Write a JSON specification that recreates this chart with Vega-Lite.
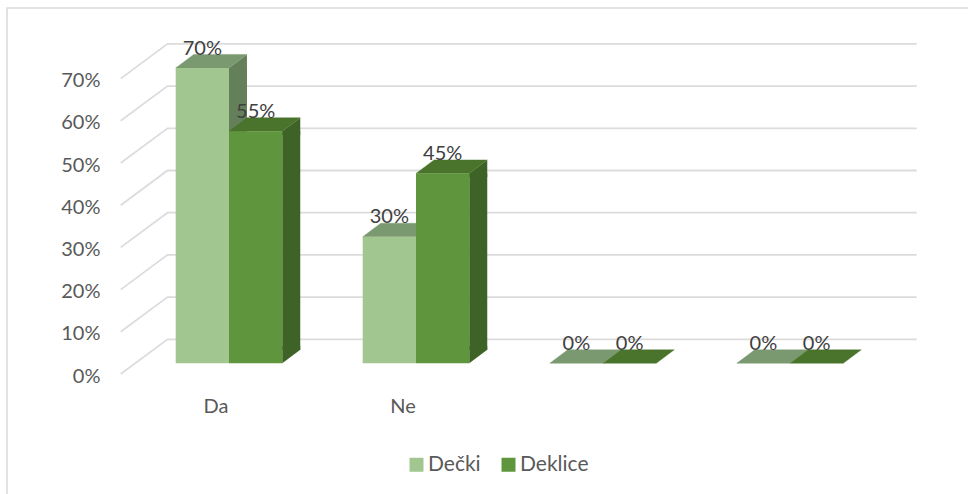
{
  "$schema": "https://vega.github.io/schema/vega-lite/v6.json",
  "width": 962,
  "height": 487,
  "autosize": {"type": "none"},
  "padding": {"left": 7, "top": 8, "right": -1, "bottom": -1},
  "background": "#ffffff",
  "config": {"view": {"stroke": "#d9d9d9", "strokeWidth": 1.5}},
  "datasets": {
    "bars": [
      {"cat": "Da", "series": "Dečki", "value": 0.7},
      {"cat": "Da", "series": "Deklice", "value": 0.55},
      {"cat": "Ne", "series": "Dečki", "value": 0.3},
      {"cat": "Ne", "series": "Deklice", "value": 0.45},
      {"cat": " ", "series": "Dečki", "value": 0},
      {"cat": " ", "series": "Deklice", "value": 0},
      {"cat": "  ", "series": "Dečki", "value": 0},
      {"cat": "  ", "series": "Deklice", "value": 0}
    ],
    "ticks": [
      {"tick": 0}, {"tick": 0.1}, {"tick": 0.2}, {"tick": 0.3},
      {"tick": 0.4}, {"tick": 0.5}, {"tick": 0.6}, {"tick": 0.7}
    ]
  },
  "data": {"name": "bars"},
  "encoding": {
    "x": {
      "field": "cat",
      "type": "nominal",
      "sort": null,
      "title": null,
      "scale": {
        "type": "band",
        "domain": ["Da", "Ne", " ", "  "],
        "range": [128.5, 876.5],
        "paddingInner": 0.43,
        "paddingOuter": 0.215
      },
      "axis": {
        "title": null,
        "domain": false,
        "ticks": false,
        "grid": false,
        "labelAngle": 0,
        "offset": -120,
        "labelPadding": 21,
        "labelOffset": -13,
        "labelFont": "Lato",
        "labelFontSize": 20,
        "labelColor": "#595959"
      }
    },
    "xOffset": {
      "field": "series",
      "type": "nominal",
      "sort": null,
      "scale": {"type": "band", "domain": ["Dečki", "Deklice"], "paddingInner": 0, "paddingOuter": 0}
    },
    "y": {
      "field": "value",
      "type": "quantitative",
      "title": null,
      "scale": {"domain": [0, 0.7], "range": [366, 70.6], "nice": false, "zero": false},
      "axis": {
        "title": null,
        "domain": false,
        "ticks": false,
        "grid": false,
        "values": [0, 0.1, 0.2, 0.3, 0.4, 0.5, 0.6, 0.7],
        "format": ".0%",
        "offset": -95,
        "labelPadding": 2,
        "labelOffset": 2,
        "labelFont": "Lato",
        "labelFontSize": 20,
        "labelColor": "#595959"
      }
    }
  },
  "layer": [
    {
      "description": "Back wall gridlines with their slanted floor-side returns",
      "data": {"name": "ticks"},
      "mark": {
        "type": "point",
        "shape": "M-108.3,0 L-61.5,-34.7 L687.7,-34.7",
        "size": 4,
        "filled": false,
        "opacity": 1,
        "stroke": "#dcdcdc",
        "strokeWidth": 1.8
      },
      "encoding": {
        "x": {"datum": "Da", "title": null},
        "xOffset": null,
        "y": {"field": "tick", "type": "quantitative", "title": null}
      }
    },
    {
      "description": "Side face, light series",
      "transform": [{"filter": "datum.series === 'Dečki' && datum.value > 0"}],
      "mark": {"type": "rule", "stroke": "#64805a", "strokeWidth": 18, "xOffset": 9, "yOffset": -10.7, "y2Offset": -24.2},
      "encoding": {"xOffset": null, "y2": {"datum": 0}}
    },
    {
      "transform": [{"filter": "datum.series === 'Dečki' && datum.value > 0"}],
      "mark": {"type": "point", "shape": "M26.6,-10.7 L44.6,-24.2 L44.6,-7 L26.6,-7 Z", "size": 4, "filled": true, "opacity": 1, "fill": "#64805a", "strokeWidth": 0}
    },
    {
      "description": "Side face, dark series",
      "transform": [{"filter": "datum.series === 'Deklice' && datum.value > 0"}],
      "mark": {"type": "rule", "stroke": "#3e6326", "strokeWidth": 18, "xOffset": 62.25, "yOffset": -10.7, "y2Offset": -24.2},
      "encoding": {"xOffset": null, "y2": {"datum": 0}}
    },
    {
      "transform": [{"filter": "datum.series === 'Deklice' && datum.value > 0"}],
      "mark": {"type": "point", "shape": "M26.6,-10.7 L44.6,-24.2 L44.6,-7 L26.6,-7 Z", "size": 4, "filled": true, "opacity": 1, "fill": "#3e6326", "strokeWidth": 0}
    },
    {
      "transform": [{"filter": "datum.series === 'Deklice' && datum.value > 0"}],
      "mark": {"type": "point", "shape": "M26.6,-10.7 L44.6,-24.2 L44.6,-28 L26.6,-28 Z", "size": 4, "filled": true, "opacity": 1, "fill": "#3e6326", "strokeWidth": 0},
      "encoding": {"y": {"datum": 0}}
    },
    {
      "description": "Top faces",
      "transform": [{"filter": "datum.series === 'Dečki'"}],
      "mark": {"type": "point", "shape": "M-26.6,-10.7 L26.6,-10.7 L44.6,-24.2 L-8.6,-24.2 Z", "size": 4, "filled": true, "opacity": 1, "fill": "#7a9970", "stroke": "#7a9970", "strokeWidth": 0.4}
    },
    {
      "transform": [{"filter": "datum.series === 'Deklice'"}],
      "mark": {"type": "point", "shape": "M-26.6,-10.7 L26.6,-10.7 L44.6,-24.2 L-8.6,-24.2 Z", "size": 4, "filled": true, "opacity": 1, "fill": "#4a732b", "stroke": "#4a732b", "strokeWidth": 0.4}
    },
    {
      "description": "Front faces, carrying the legend",
      "mark": {"type": "bar", "yOffset": -10.7, "y2Offset": -10.7},
      "encoding": {
        "y2": {"datum": 0},
        "color": {
          "field": "series",
          "type": "nominal",
          "sort": null,
          "scale": {"domain": ["Dečki", "Deklice"], "range": ["#a2c690", "#5f963d"]},
          "legend": {
            "title": null,
            "orient": "none",
            "legendX": 399,
            "legendY": 446,
            "direction": "horizontal",
            "columns": 2,
            "columnPadding": 17,
            "symbolType": "square",
            "symbolSize": 196,
            "symbolStrokeWidth": 0,
            "symbolOpacity": 1,
            "labelFont": "Lato",
            "labelFontSize": 21,
            "labelColor": "#595959",
            "labelOffset": 1
          }
        }
      }
    },
    {
      "description": "Value labels above each bar",
      "mark": {"type": "text", "font": "Lato", "fontSize": 20, "fill": "#404040", "baseline": "middle", "yOffset": -30},
      "encoding": {"text": {"field": "value", "type": "quantitative", "format": ".0%"}}
    }
  ]
}
